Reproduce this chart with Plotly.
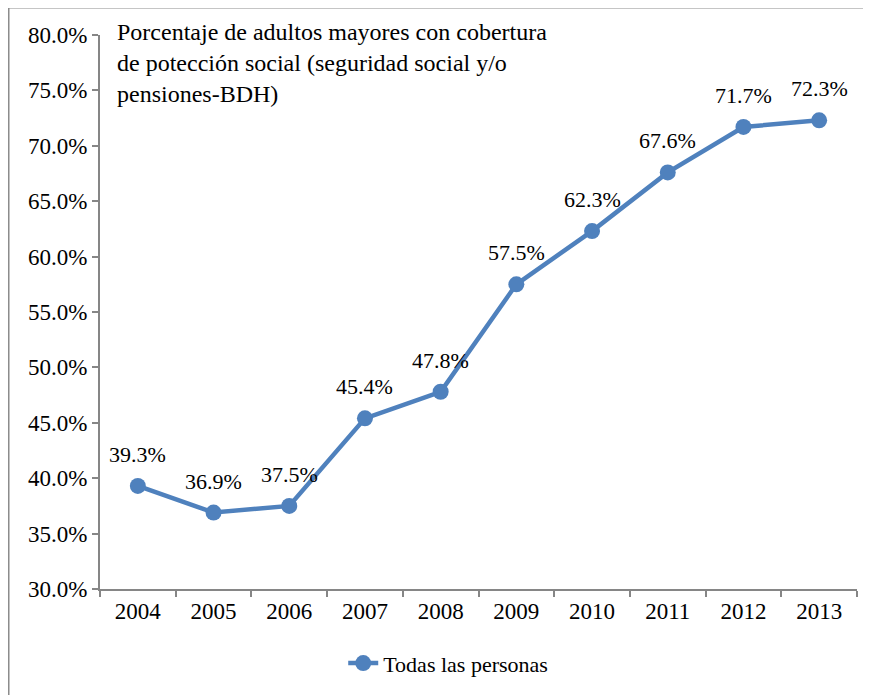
import plotly.graph_objects as go

years = ["2004", "2005", "2006", "2007", "2008", "2009", "2010", "2011", "2012", "2013"]
coverage = [39.3, 36.9, 37.5, 45.4, 47.8, 57.5, 62.3, 67.6, 71.7, 72.3]
series_name = "Todas las personas"
title_text = ("Porcentaje de adultos mayores con cobertura<br>"
              "de potección social (seguridad social y/o<br>"
              "pensiones-BDH)")

BLUE = "#4F81BD"
AXIS = "#868686"
FONT = "Liberation Serif"

fig = go.Figure()
fig.add_trace(
    go.Scatter(
        x=years,
        y=coverage,
        mode="lines+markers",
        name=series_name,
        line=dict(color=BLUE, width=4.5),
        marker=dict(color=BLUE, size=16),
    )
)

# etiquetas de datos sobre cada punto (x por indice de categoria)
for i, val in enumerate(coverage):
    fig.add_annotation(
        x=i, y=val, text=f"{val:.1f}%", showarrow=False,
        yanchor="bottom", yshift=17,
        font=dict(family=FONT, size=22, color="black"),
    )

fig.add_annotation(
    xref="paper", yref="paper", x=0.02, y=1.033,
    xanchor="left", yanchor="top", align="left",
    text=title_text, showarrow=False,
    font=dict(family=FONT, size=24, color="black"),
)

# marco exterior (lineas gris izquierda y superior)
fig.add_shape(type="line", xref="paper", yref="paper",
              x0=-0.1215, x1=-0.1215, y0=-0.2, y1=1.0505,
              line=dict(color="#8c8c8c", width=3))
fig.add_shape(type="line", xref="paper", yref="paper",
              x0=-0.1235, x1=1.03, y0=1.0505, y1=1.0505,
              line=dict(color="#8c8c8c", width=3))

fig.update_xaxes(
    type="category", range=[-0.5, 9.5], tickson="boundaries",
    showline=True, linecolor=AXIS, linewidth=2,
    ticks="outside", ticklen=6, tickcolor=AXIS, tickwidth=2,
    showgrid=False, zeroline=False,
    tickfont=dict(family=FONT, size=23, color="black"),
)
fig.update_yaxes(
    range=[30, 80], dtick=5, tickformat=".1f", ticksuffix="%",
    showline=True, linecolor=AXIS, linewidth=2,
    ticks="outside", ticklen=6, tickcolor=AXIS, tickwidth=2,
    showgrid=False, zeroline=False,
    tickfont=dict(family=FONT, size=23, color="black"),
)

# la pagina agrega 8 px de margen: los margenes lo compensan
fig.update_layout(
    width=871, height=695,
    margin=dict(l=92, r=22, t=27, b=114, autoexpand=False),
    paper_bgcolor="white", plot_bgcolor="white",
    showlegend=True,
    legend=dict(
        orientation="h", x=0.46, y=-0.134, xanchor="center", yanchor="middle",
        font=dict(family=FONT, size=22, color="black"),
    ),
)

fig.write_html("out.html")
